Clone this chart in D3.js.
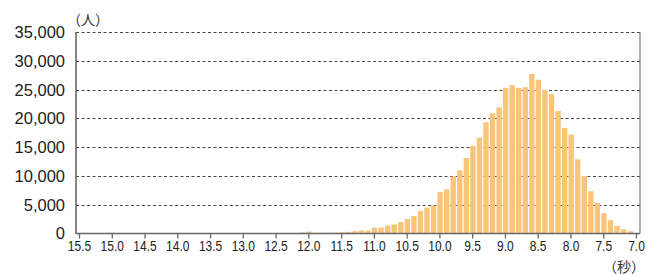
<!DOCTYPE html>
<html>
<head>
<meta charset="utf-8">
<script src="https://cdn.jsdelivr.net/npm/d3@7"></script>
<style>
  body { margin: 0; background: #fff; }
  svg { display: block; font-family: "Liberation Sans", Arial, sans-serif; }
</style>
</head>
<body>
<div id="chart"></div>
<script>
// time bins (seconds) and number of people in each
var times = [12.2, 12.1, 12.0, 11.9, 11.8, 11.7, 11.6, 11.5, 11.4, 11.3, 11.2, 11.1,
    11.0, 10.9, 10.8, 10.7, 10.6, 10.5, 10.4, 10.3, 10.2, 10.1, 10.0, 9.9, 9.8, 9.7,
    9.6, 9.5, 9.4, 9.3, 9.2, 9.1, 9.0, 8.9, 8.8, 8.7, 8.6, 8.5, 8.4, 8.3, 8.2, 8.1,
    8.0, 7.9, 7.8, 7.7, 7.6, 7.5, 7.4, 7.3, 7.2, 7.1];
var counts = [40, 150, 330, 90, 110, 120, 150, 190, 290, 400, 520, 520,
    1030, 1040, 1400, 1570, 1980, 2520, 3020, 3900, 4500, 4820, 7200, 7680, 9900, 10980,
    13100, 15230, 16650, 19300, 20900, 21900, 25300, 25780, 25300, 25400, 27720, 26700, 24950, 24220, 21270, 18320,
    17170, 12890, 10000, 7340, 5320, 3530, 2310, 1330, 750, 400];
var xTicks = [15.5, 15.0, 14.5, 14.0, 13.5, 13.0, 12.5, 12.0, 11.5, 11.0, 10.5, 10.0, 9.5, 9.0, 8.5, 8.0, 7.5, 7.0];
var yTicks = [0, 5000, 10000, 15000, 20000, 25000, 30000, 35000];

(function () {
    var width = 662, height = 275;
    var plotLeft = 76, plotRight = 640, plotTop = 32, plotBottom = 233.5;

    var svg = d3.select('#chart').append('svg')
        .attr('width', width)
        .attr('height', height);

    var x = d3.scaleLinear().domain([15.5, 7.0]).range([79, 636]);
    var y = d3.scaleLinear().domain([0, 35000]).range([plotBottom, plotTop]);

    // dotted grid lines (top one doubles as the frame)
    svg.append('g')
        .selectAll('line')
        .data(yTicks.filter(function (d) { return d > 0; }))
        .join('line')
        .attr('x1', plotLeft)
        .attr('x2', plotRight)
        .attr('y1', function (d) { return Math.round(y(d)) + 0.5; })
        .attr('y2', function (d) { return Math.round(y(d)) + 0.5; })
        .attr('stroke', '#444')
        .attr('stroke-width', 1)
        .attr('stroke-dasharray', '3,2.5');

    // bars
    var data = times.map(function (t, i) { return { t: t, v: counts[i] }; });
    svg.append('g')
        .selectAll('rect')
        .data(data)
        .join('rect')
        .attr('x', function (d) { return x(d.t + 0.05) + 1.3; })
        .attr('width', function (d) { return x(d.t - 0.05) - x(d.t + 0.05) - 1.2; })
        .attr('y', function (d) { return y(d.v); })
        .attr('height', function (d) { return plotBottom - y(d.v); })
        .attr('fill', '#fbc47b');

    // right frame line
    svg.append('line')
        .attr('x1', plotRight).attr('x2', plotRight)
        .attr('y1', plotTop).attr('y2', plotBottom)
        .attr('stroke', '#777')
        .attr('stroke-width', 1.2);

    // y labels (no tick marks)
    svg.append('g')
        .selectAll('text')
        .data(yTicks)
        .join('text')
        .attr('x', 65)
        .attr('y', function (d) { return y(d); })
        .attr('dy', '0.36em')
        .attr('text-anchor', 'end')
        .attr('font-size', 16.5)
        .attr('fill', '#222')
        .text(d3.format(','));

    // x axis
    var xAxis = svg.append('g')
        .attr('transform', 'translate(0,' + plotBottom + ')')
        .call(d3.axisBottom(x).tickValues(xTicks).tickFormat(d3.format('.1f')).tickSize(5).tickSizeOuter(0));
    xAxis.select('.domain').remove();
    xAxis.selectAll('.tick line').attr('stroke', '#666').attr('stroke-width', 1.3);
    xAxis.selectAll('.tick text')
        .attr('font-size', 15)
        .attr('font-family', '"Liberation Sans", Arial, sans-serif')
        .attr('fill', '#222')
        .attr('y', 7)
        .attr('transform', 'scale(0.8,1)');

    // axis lines
    svg.append('path')
        .attr('d', 'M' + plotLeft + ',' + plotTop + 'V' + plotBottom + 'H' + plotRight)
        .attr('fill', 'none')
        .attr('stroke', '#666')
        .attr('stroke-width', 1.6);

    // units
    svg.append('text')
        .attr('x', 88).attr('y', 25)
        .attr('text-anchor', 'middle')
        .attr('font-size', 14)
        .attr('fill', '#333')
        .attr('font-family', '"Noto Sans CJK JP", sans-serif')
        .text('（人）');

    svg.append('text')
        .attr('x', 624).attr('y', 272)
        .attr('text-anchor', 'middle')
        .attr('font-size', 14)
        .attr('fill', '#333')
        .attr('font-family', '"Noto Sans CJK JP", sans-serif')
        .text('（秒）');
})();
</script>
</body>
</html>
